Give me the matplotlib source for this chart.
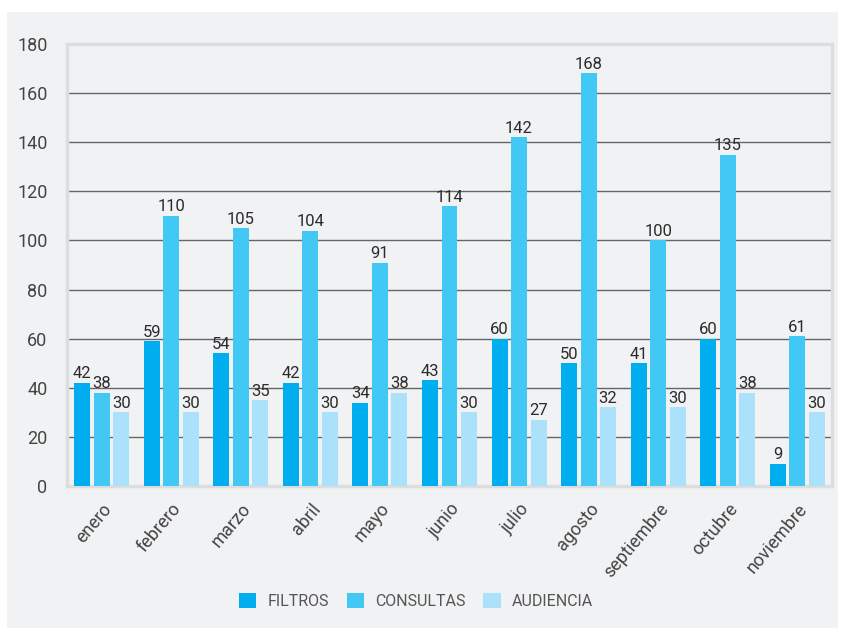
import matplotlib.pyplot as plt
from matplotlib.patches import Rectangle
import numpy as np

plt.rcParams['font.family'] = ['Roboto', 'DejaVu Sans']

meses = ['enero', 'febrero', 'marzo', 'abril', 'mayo', 'junio', 'julio',
         'agosto', 'septiembre', 'octubre', 'noviembre']

# alturas de las barras (tal como se dibujan)
filtros = [42, 59, 54, 42, 34, 43, 60, 50, 50, 60, 9]
consultas = [38, 110, 105, 104, 91, 114, 142, 168, 100, 135, 61]
audiencia = [30, 30, 35, 30, 38, 30, 27, 32, 32, 38, 30]

# etiquetas que muestra el grafico
filtros_txt = [42, 59, 54, 42, 34, 43, 60, 50, 41, 60, 9]
consultas_txt = [38, 110, 105, 104, 91, 114, 142, 168, 100, 135, 61]
audiencia_txt = [30, 30, 35, 30, 38, 30, 27, 32, 30, 38, 30]

series = [
    ('FILTROS', filtros, filtros_txt, '#00aeef'),
    ('CONSULTAS', consultas, consultas_txt, '#42c8f4'),
    ('AUDIENCIA', audiencia, audiencia_txt, '#abe1fa'),
]

fig = plt.figure(figsize=(8.41, 6.32), dpi=100, facecolor='white')
fondo = Rectangle((7 / 841, 4 / 632), 831 / 841, 616 / 632,
                  transform=fig.transFigure, facecolor='#f1f2f4',
                  edgecolor='none', zorder=-10)
fig.patches.append(fondo)
ax = fig.add_axes([67 / 841, 1 - 486 / 632, 765 / 841, 442 / 632])
ax.set_facecolor('#f1f2f4')

x = np.arange(len(meses))
ancho = 0.23
paso = 0.28
for i, (nombre, vals, txts, color) in enumerate(series):
    pos = x + (i - 1) * paso
    ax.bar(pos, vals, width=ancho, color=color, label=nombre, zorder=3)
    for p, v, t in zip(pos, vals, txts):
        ax.text(p, v + 0.6, str(t), ha='center', va='bottom', fontsize=12,
                color='#2b2b2b', zorder=4)

ax.set_xlim(-0.5, len(meses) - 0.5)
ax.set_ylim(0, 180)
ax.set_yticks(range(0, 181, 20))
ax.yaxis.grid(True, color='#666666', linewidth=1.0)
ax.set_axisbelow(True)
for g in ax.get_ygridlines()[0::9]:
    g.set_visible(False)

for s in ax.spines.values():
    s.set_color('#dcdddf')
    s.set_linewidth(2.5)

ax.set_xticks(x)
ax.set_xticklabels(meses, rotation=50, ha='right', rotation_mode='anchor',
                   fontsize=13, color='#444444')
ax.tick_params(axis='x', length=0, pad=10)
ax.tick_params(axis='y', length=0, pad=14, labelsize=13, labelcolor='#444444')

leg = fig.legend(loc='center', bbox_to_anchor=(416 / 841, 1 - 601 / 632), ncol=3,
                 frameon=False, fontsize=11.5, handlelength=1.1, handleheight=1.1,
                 columnspacing=1.1, handletextpad=0.7)
for t in leg.get_texts():
    t.set_color('#555555')

fig.savefig('out.png', dpi=100, facecolor='white')
